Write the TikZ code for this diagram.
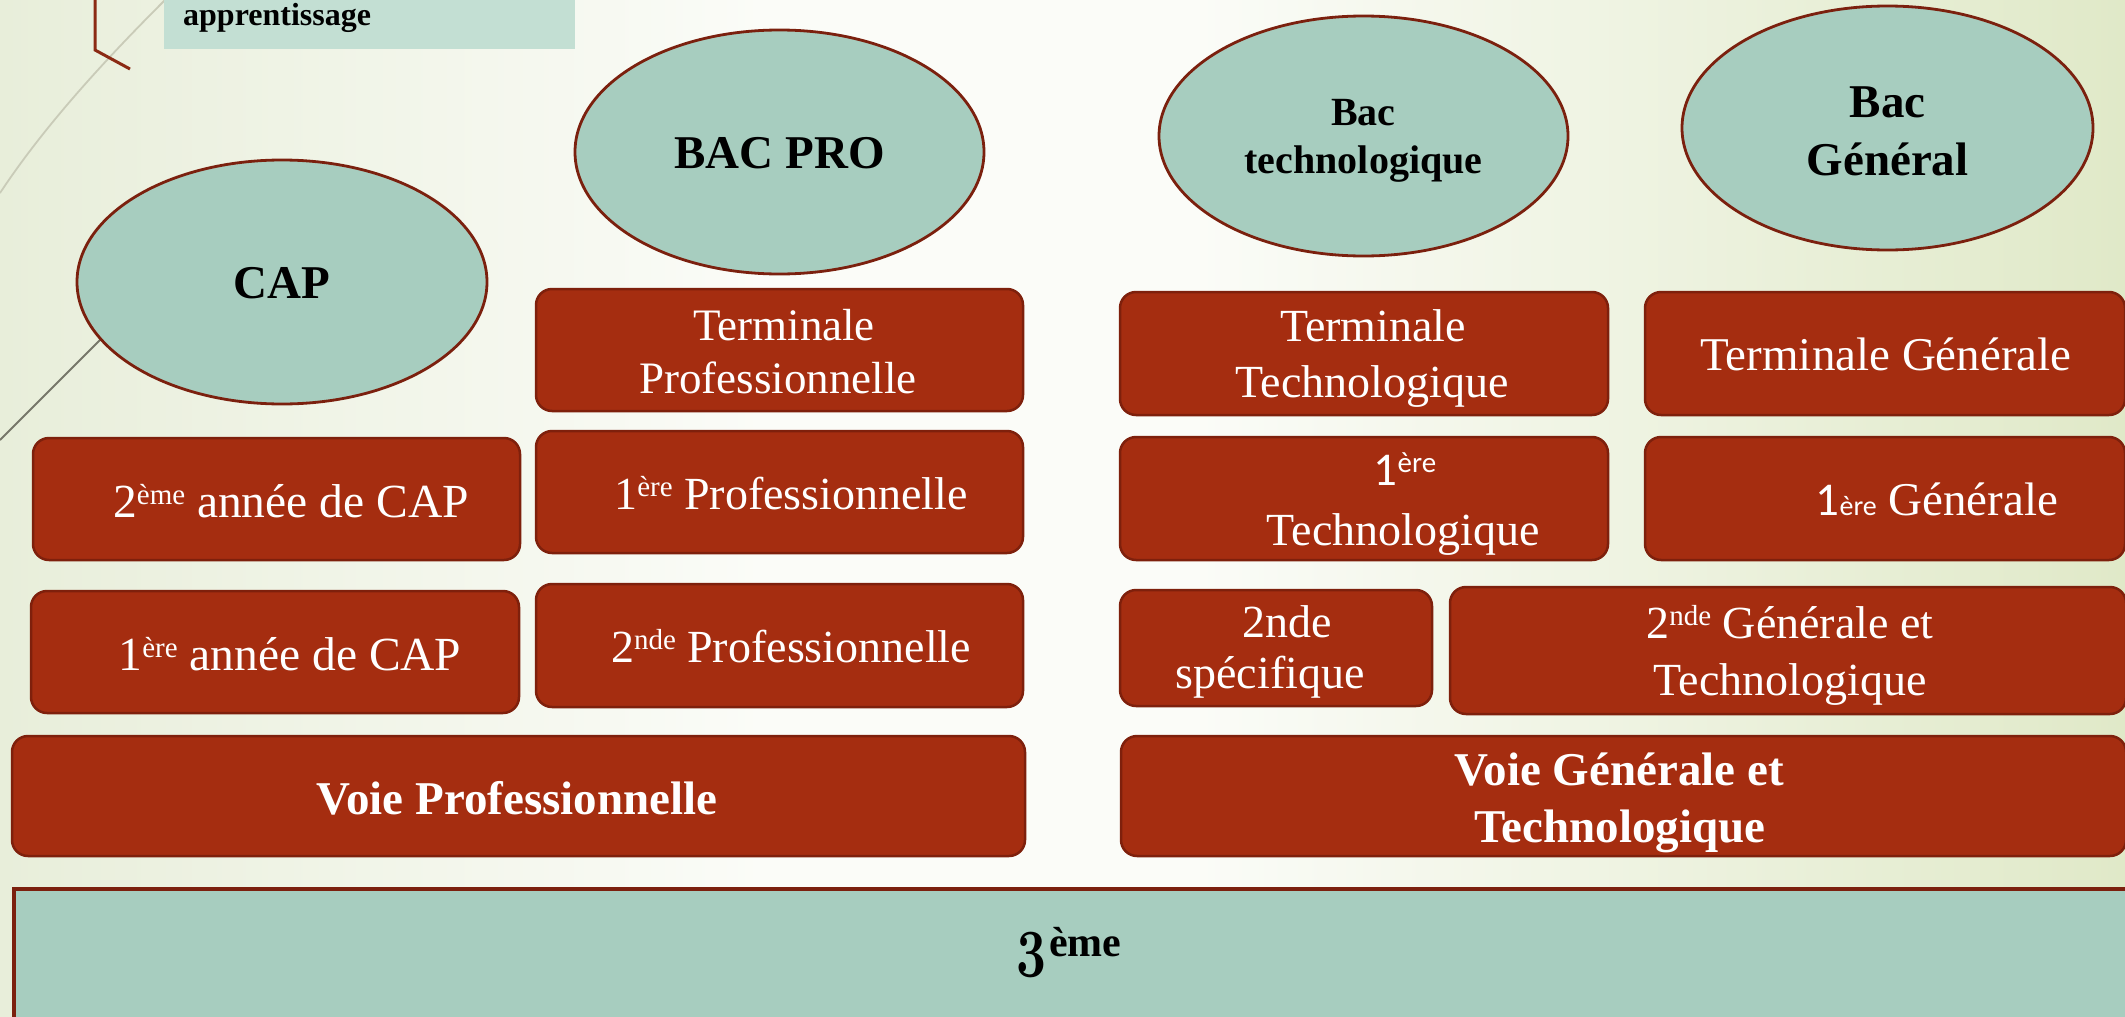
\documentclass[tikz,border=0pt]{standalone}
\usepackage{graphicx}
\usepackage{fontspec}
\setmainfont{Liberation Serif}
\newfontfamily\calib{Carlito}
\usetikzlibrary{shapes.geometric}
\definecolor{boxred}{HTML}{A52D10}
\definecolor{boxedge}{HTML}{7E200C}
\definecolor{ellfill}{HTML}{A7CDBF}
\definecolor{elledge}{HTML}{7B200E}
\definecolor{lblfill}{HTML}{C3DFD3}
\definecolor{bgL}{RGB}{232,238,218}
\definecolor{bgM}{RGB}{251,252,248}
\definecolor{bgR}{RGB}{224,233,200}
\definecolor{decored}{HTML}{8B2A14}
\definecolor{decogrey}{HTML}{C9CBB8}
\definecolor{decodark}{HTML}{77776A}
\pgfdeclarehorizontalshading{bgshade}{100bp}{color(0bp)=(bgL); color(25bp)=(bgL); color(43bp)=(bgM); color(53bp)=(bgM); color(75bp)=(bgR); color(100bp)=(bgR)}
\newcommand\upx[1]{\raisebox{13pt}{\fontsize{29}{30}\selectfont #1}}
\begin{document}
\begin{tikzpicture}[x=1pt,y=-1pt,
  redbox/.style={draw=boxedge, line width=2.5pt, fill=boxred, rounded corners=16pt, inner sep=0pt, outer sep=0pt},
  oval/.style={ellipse, draw=elledge, line width=2.8pt, fill=ellfill, inner sep=0pt},
  otxt/.style={inner sep=0pt, align=center, font=\bfseries\fontsize{47}{57}\selectfont},
  wtxt/.style={text=white, inner sep=0pt, anchor=base, font=\fontsize{46}{55}\selectfont},
  wtxtp/.style={wtxt, font=\fontsize{45}{54}\selectfont},
  wtxtc/.style={wtxt, font=\fontsize{47.5}{56}\selectfont},
  wbold/.style={text=white, inner sep=0pt, anchor=base, font=\bfseries\fontsize{47}{57}\selectfont}]
\useasboundingbox (0,0) rectangle (2125,1017);
\clip (0,0) rectangle (2125,1017);
\shade[shading=bgshade] (0,0) rectangle (2125,1017);

% decorations top left
\draw[decogrey, line width=1.8pt] (165,0) .. controls (105,60) and (45,125) .. (0,193);
\draw[decodark, line width=1.8pt] (160,280) .. controls (100,340) and (45,395) .. (0,440);
\draw[decored, line width=3pt] (95,0) -- (95,50) -- (130,69);

% label box (cut at top)
\node[fill=lblfill, anchor=north west, minimum width=411pt, minimum height=49pt, inner sep=0pt] (lblBox) at (164,0) {};
\node[anchor=base west, inner sep=0pt, font=\bfseries\fontsize{32}{38}\selectfont] (lblTxt) at (183,25) {apprentissage};

% ellipses
\node[oval, minimum width=410pt, minimum height=244pt] (eCap) at (282,282) {};
\node[oval, minimum width=409pt, minimum height=244pt] (eBacPro) at (779.5,152) {};
\node[oval, minimum width=409pt, minimum height=240pt] (eBacTech) at (1363.5,136) {};
\node[oval, minimum width=411pt, minimum height=244pt] (eBacGen) at (1887.5,128) {};
\node[otxt, yshift=-1.5pt] (tCap) at (eCap.center) {CAP};
\node[otxt, yshift=-1.5pt] (tBacPro) at (eBacPro.center) {BAC PRO};
\node[otxt, yshift=-5pt, font=\bfseries\fontsize{40}{48}\selectfont] (tBacTech) at (eBacTech.center) {Bac\\technologique};
\node[otxt, yshift=-3.5pt, font=\bfseries\fontsize{47}{58}\selectfont] (tBacGen) at (eBacGen.center) {Bac\\Général};

% boxes
\node[redbox, minimum width=487pt, minimum height=122pt] (bTermPro) at (779.5,350) {};
\node[redbox, minimum width=488pt, minimum height=123pt] (bTermTech) at (1364,353.5) {};
\node[redbox, minimum width=480pt, minimum height=123pt] (bTermGen) at (1885,353.5) {};
\node[redbox, minimum width=487pt, minimum height=122pt] (bCap2) at (276.5,499) {};
\node[redbox, minimum width=487pt, minimum height=122pt] (bPremPro) at (779.5,492) {};
\node[redbox, minimum width=488pt, minimum height=123pt] (bPremTech) at (1364,498.5) {};
\node[redbox, minimum width=480pt, minimum height=123pt] (bPremGen) at (1885,498.5) {};
\node[redbox, minimum width=488pt, minimum height=122pt] (bCap1) at (275,652) {};
\node[redbox, minimum width=487pt, minimum height=123pt] (bSecPro) at (779.5,645.5) {};
\node[redbox, minimum width=312pt, minimum height=116pt] (bSecSpec) at (1276,648) {};
\node[redbox, minimum width=676pt, minimum height=127pt] (bSecGT) at (1788,650.5) {};
\node[redbox, minimum width=1013pt, minimum height=120pt] (bVoiePro) at (518.5,796) {};
\node[redbox, minimum width=1005pt, minimum height=120pt] (bVoieGT) at (1623.5,796) {};

% 3eme
\node[draw=elledge, line width=3.5pt, fill=ellfill, anchor=north west, minimum width=2200pt, minimum height=200pt, inner sep=0pt] (bTrois) at (12,887) {};
\node[anchor=base west, inner sep=0pt] (tTrois) at (1016,963) {\scalebox{5.2}[6.8]{\fontsize{10}{12}\usefont{OML}{cmm}{b}{it}3}\hspace{3pt}\raisebox{7pt}{\bfseries\fontsize{42}{44}\selectfont ème}};

% texts
\node[wtxtp] (tTermPro1) at (784,340) {Terminale};
\node[wtxtp] (tTermPro2) at (778,393) {Professionnelle};
\node[wtxt] (tTermTech1) at (1373,341) {Terminale};
\node[wtxt] (tTermTech2) at (1372,397) {Technologique};
\node[wtxt, font=\fontsize{47}{56}\selectfont] (tTermGen) at (1886,370) {Terminale Générale};
\node[wtxtc] (tCap2) at (291,517) {2\upx{ème} année de CAP};
\node[wtxt] (tPremPro) at (791,509) {1\upx{ère} Professionnelle};
\node[wtxt, font=\calib\fontsize{47}{56}\selectfont] (tPremTech1) at (1405,485) {1\upx{ère}};
\node[wtxt] (tPremTech2) at (1403,545) {Technologique};
\node[wtxt, font=\fontsize{47}{56}\selectfont] (tPremGen) at (1937,515) {{\calib 1{\fontsize{28}{30}\selectfont ère}} Générale};
\node[wtxtc] (tCap1) at (290,670) {1\upx{ère} année de CAP};
\node[wtxt] (tSecPro) at (791,662) {2\upx{nde} Professionnelle};
\node[wtxt] (tSecSpec1) at (1287,637) {2nde};
\node[wtxt] (tSecSpec2) at (1270,688) {spécifique};
\node[wtxt] (tSecGT1) at (1790,638) {2\upx{nde} Générale et};
\node[wtxt] (tSecGT2) at (1790,695) {Technologique};
\node[wbold] (tVoiePro) at (517,814) {Voie Professionnelle};
\node[wbold] (tVoieGT1) at (1619,785) {Voie Générale et};
\node[wbold] (tVoieGT2) at (1620,842) {Technologique};
\end{tikzpicture}
\end{document}
